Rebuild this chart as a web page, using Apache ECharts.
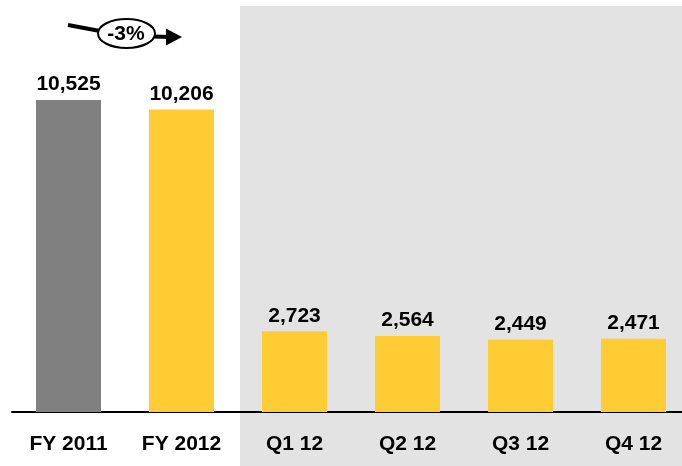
<!DOCTYPE html>
<html>
<head>
<meta charset="utf-8">
<script src="https://cdn.jsdelivr.net/npm/echarts@6/dist/echarts.min.js"></script>
<style>
  html, body { margin: 0; padding: 0; background: #fff; overflow: hidden; }
  /* the last category band runs past the right edge of the frame */
  #chart { width: 690px; height: 466px; }
</style>
</head>
<body>
<div id="chart"></div>
<script>
const categories = ['FY 2011', 'FY 2012', 'Q1 12', 'Q2 12', 'Q3 12', 'Q4 12']
const values = [10525, 10206, 2723, 2564, 2449, 2471]
const barColors = ['#808080', '#ffcc33', '#ffcc33', '#ffcc33', '#ffcc33', '#ffcc33']
const changeLabel = '-3%'

const FONT = '"Liberation Sans", Arial, sans-serif'

const chart = echarts.init(document.getElementById('chart'))

chart.setOption({
  animation: false,
  backgroundColor: '#fff',
  grid: { left: 12, top: 40, width: 678, bottom: 54, containLabel: false },
  xAxis: {
    type: 'category',
    data: categories,
    axisLine: { lineStyle: { color: '#000', width: 2 } },
    axisTick: { show: false },
    axisLabel: {
      color: '#000',
      fontFamily: FONT,
      fontWeight: 'bold',
      fontSize: 21,
      margin: 22
    }
  },
  yAxis: {
    type: 'value',
    min: 0,
    max: 12550,
    show: false,
    splitLine: { show: false }
  },
  graphic: [
    // shaded quarterly region
    {
      type: 'rect',
      z: -10,
      shape: { x: 240, y: 6, width: 450, height: 460 },
      style: { fill: '#e3e3e3' }
    },
    // -3% change arrow
    {
      type: 'line',
      shape: { x1: 68, y1: 25, x2: 100, y2: 31 },
      style: { stroke: '#000', lineWidth: 4 }
    },
    {
      type: 'line',
      shape: { x1: 153, y1: 36.5, x2: 170, y2: 37 },
      style: { stroke: '#000', lineWidth: 4 }
    },
    {
      type: 'polygon',
      shape: { points: [[166, 28.5], [182, 37], [166, 45.5]] },
      style: { fill: '#000' }
    },
    {
      type: 'ellipse',
      shape: { cx: 126.5, cy: 33.5, rx: 28.5, ry: 14.5 },
      style: { fill: '#fff', stroke: '#000', lineWidth: 2 }
    },
    {
      type: 'text',
      x: 126,
      y: 34,
      style: {
        text: changeLabel,
        fill: '#000',
        font: 'bold 21px ' + FONT,
        align: 'center',
        verticalAlign: 'middle'
      }
    }
  ],
  series: [
    {
      type: 'bar',
      barWidth: 65,
      data: values.map((v, i) => ({ value: v, itemStyle: { color: barColors[i] } })),
      label: {
        show: true,
        position: 'top',
        distance: 5,
        color: '#000',
        fontFamily: FONT,
        fontWeight: 'bold',
        fontSize: 21,
        formatter: p => p.value.toLocaleString('en-US')
      }
    }
  ]
})
</script>
</body>
</html>
